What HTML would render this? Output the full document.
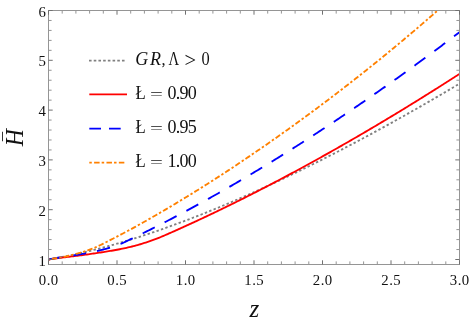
<!DOCTYPE html>
<html><head><meta charset="utf-8"><title>plot</title>
<style>
html,body{margin:0;padding:0;background:#fff;}
svg{display:block;will-change:transform;}
text{font-family:"Liberation Serif",serif;fill:#111;}
.it{font-style:italic;}
</style></head><body>
<svg width="469" height="327" viewBox="0 0 469 327">
<rect width="469" height="327" fill="#fff"/>
<defs><clipPath id="c"><rect x="48.5" y="10.5" width="411.0" height="254.0"/></clipPath></defs>

<g clip-path="url(#c)" fill="none" stroke-linejoin="round">
<path d="M48.50,259.50 L49.87,259.27 L51.24,259.03 L52.61,258.79 L53.98,258.55 L55.35,258.30 L56.72,258.05 L58.09,257.79 L59.46,257.53 L60.83,257.27 L62.20,257.01 L63.57,256.74 L64.94,256.47 L66.31,256.19 L67.68,255.91 L69.05,255.63 L70.42,255.34 L71.79,255.05 L73.16,254.76 L74.53,254.47 L75.90,254.17 L77.27,253.86 L78.64,253.56 L80.01,253.25 L81.38,252.93 L82.75,252.62 L84.12,252.30 L85.49,251.98 L86.86,251.65 L88.23,251.32 L89.60,250.99 L90.97,250.65 L92.34,250.31 L93.71,249.97 L95.08,249.63 L96.45,249.28 L97.82,248.92 L99.19,248.57 L100.56,248.21 L101.93,247.85 L103.30,247.49 L104.67,247.12 L106.04,246.75 L107.41,246.38 L108.78,246.00 L110.15,245.62 L111.52,245.24 L112.89,244.85 L114.26,244.47 L115.63,244.07 L117.00,243.68 L118.37,243.28 L119.74,242.88 L121.11,242.48 L122.48,242.08 L123.85,241.67 L125.22,241.26 L126.59,240.84 L127.96,240.43 L129.33,240.01 L130.70,239.58 L132.07,239.16 L133.44,238.73 L134.81,238.30 L136.18,237.87 L137.55,237.43 L138.92,237.00 L140.29,236.55 L141.66,236.11 L143.03,235.66 L144.40,235.22 L145.77,234.77 L147.14,234.31 L148.51,233.86 L149.88,233.40 L151.25,232.94 L152.62,232.47 L153.99,232.01 L155.36,231.54 L156.73,231.07 L158.10,230.59 L159.47,230.12 L160.84,229.64 L162.21,229.16 L163.58,228.67 L164.95,228.19 L166.32,227.70 L167.69,227.21 L169.06,226.72 L170.43,226.22 L171.80,225.73 L173.17,225.23 L174.54,224.73 L175.91,224.22 L177.28,223.72 L178.65,223.21 L180.02,222.70 L181.39,222.18 L182.76,221.67 L184.13,221.15 L185.50,220.63 L186.87,220.11 L188.24,219.59 L189.61,219.06 L190.98,218.54 L192.35,218.01 L193.72,217.47 L195.09,216.94 L196.46,216.40 L197.83,215.87 L199.20,215.33 L200.57,214.78 L201.94,214.24 L203.31,213.69 L204.68,213.14 L206.05,212.59 L207.42,212.04 L208.79,211.49 L210.16,210.93 L211.53,210.37 L212.90,209.81 L214.27,209.25 L215.64,208.69 L217.01,208.12 L218.38,207.55 L219.75,206.98 L221.12,206.41 L222.49,205.84 L223.86,205.26 L225.23,204.69 L226.60,204.11 L227.97,203.53 L229.34,202.94 L230.71,202.36 L232.08,201.77 L233.45,201.19 L234.82,200.60 L236.19,200.00 L237.56,199.41 L238.93,198.81 L240.30,198.22 L241.67,197.62 L243.04,197.02 L244.41,196.42 L245.78,195.81 L247.15,195.21 L248.52,194.60 L249.89,193.99 L251.26,193.38 L252.63,192.77 L254.00,192.15 L255.37,191.53 L256.74,190.92 L258.11,190.30 L259.48,189.68 L260.85,189.05 L262.22,188.43 L263.59,187.80 L264.96,187.18 L266.33,186.55 L267.70,185.91 L269.07,185.28 L270.44,184.65 L271.81,184.01 L273.18,183.37 L274.55,182.74 L275.92,182.09 L277.29,181.45 L278.66,180.81 L280.03,180.16 L281.40,179.52 L282.77,178.87 L284.14,178.22 L285.51,177.57 L286.88,176.91 L288.25,176.26 L289.62,175.60 L290.99,174.94 L292.36,174.28 L293.73,173.62 L295.10,172.96 L296.47,172.30 L297.84,171.63 L299.21,170.97 L300.58,170.30 L301.95,169.63 L303.32,168.96 L304.69,168.28 L306.06,167.61 L307.43,166.93 L308.80,166.26 L310.17,165.58 L311.54,164.90 L312.91,164.21 L314.28,163.53 L315.65,162.85 L317.02,162.16 L318.39,161.47 L319.76,160.78 L321.13,160.09 L322.50,159.40 L323.87,158.71 L325.24,158.02 L326.61,157.32 L327.98,156.62 L329.35,155.92 L330.72,155.22 L332.09,154.52 L333.46,153.82 L334.83,153.11 L336.20,152.41 L337.57,151.70 L338.94,150.99 L340.31,150.28 L341.68,149.57 L343.05,148.86 L344.42,148.15 L345.79,147.43 L347.16,146.71 L348.53,146.00 L349.90,145.28 L351.27,144.56 L352.64,143.83 L354.01,143.11 L355.38,142.39 L356.75,141.66 L358.12,140.93 L359.49,140.20 L360.86,139.47 L362.23,138.74 L363.60,138.01 L364.97,137.28 L366.34,136.54 L367.71,135.81 L369.08,135.07 L370.45,134.33 L371.82,133.59 L373.19,132.85 L374.56,132.10 L375.93,131.36 L377.30,130.61 L378.67,129.87 L380.04,129.12 L381.41,128.37 L382.78,127.62 L384.15,126.87 L385.52,126.11 L386.89,125.36 L388.26,124.61 L389.63,123.85 L391.00,123.09 L392.37,122.33 L393.74,121.57 L395.11,120.81 L396.48,120.05 L397.85,119.28 L399.22,118.52 L400.59,117.75 L401.96,116.98 L403.33,116.21 L404.70,115.44 L406.07,114.67 L407.44,113.90 L408.81,113.12 L410.18,112.35 L411.55,111.57 L412.92,110.79 L414.29,110.02 L415.66,109.24 L417.03,108.45 L418.40,107.67 L419.77,106.89 L421.14,106.10 L422.51,105.32 L423.88,104.53 L425.25,103.74 L426.62,102.95 L427.99,102.16 L429.36,101.37 L430.73,100.58 L432.10,99.78 L433.47,98.99 L434.84,98.19 L436.21,97.39 L437.58,96.59 L438.95,95.79 L440.32,94.99 L441.69,94.19 L443.06,93.39 L444.43,92.58 L445.80,91.78 L447.17,90.97 L448.54,90.16 L449.91,89.35 L451.28,88.54 L452.65,87.73 L454.02,86.92 L455.39,86.10 L456.76,85.29 L458.13,84.47 L459.50,83.66" stroke="#808080" stroke-width="1.85" stroke-dasharray="2.4 2.295" stroke-dashoffset="0.9"/>
<path d="M48.50,259.58 L49.87,259.34 L51.24,259.12 L52.61,258.90 L53.98,258.69 L55.35,258.49 L56.72,258.29 L58.09,258.11 L59.46,257.92 L60.83,257.75 L62.20,257.58 L63.57,257.41 L64.94,257.25 L66.31,257.09 L67.68,256.93 L69.05,256.77 L70.42,256.61 L71.79,256.44 L73.16,256.28 L74.53,256.12 L75.90,255.95 L77.27,255.78 L78.64,255.60 L80.01,255.43 L81.38,255.25 L82.75,255.06 L84.12,254.88 L85.49,254.69 L86.86,254.49 L88.23,254.30 L89.60,254.10 L90.97,253.90 L92.34,253.70 L93.71,253.50 L95.08,253.30 L96.45,253.10 L97.82,252.89 L99.19,252.69 L100.56,252.48 L101.93,252.27 L103.30,252.06 L104.67,251.84 L106.04,251.63 L107.41,251.41 L108.78,251.19 L110.15,250.96 L111.52,250.73 L112.89,250.49 L114.26,250.25 L115.63,250.00 L117.00,249.75 L118.37,249.49 L119.74,249.22 L121.11,248.95 L122.48,248.67 L123.85,248.38 L125.22,248.09 L126.59,247.78 L127.96,247.47 L129.33,247.15 L130.70,246.82 L132.07,246.48 L133.44,246.13 L134.81,245.77 L136.18,245.40 L137.55,245.02 L138.92,244.64 L140.29,244.24 L141.66,243.83 L143.03,243.41 L144.40,242.98 L145.77,242.54 L147.14,242.09 L148.51,241.63 L149.88,241.16 L151.25,240.68 L152.62,240.18 L153.99,239.68 L155.36,239.17 L156.73,238.64 L158.10,238.10 L159.47,237.56 L160.84,237.00 L162.21,236.43 L163.58,235.85 L164.95,235.27 L166.32,234.67 L167.69,234.07 L169.06,233.46 L170.43,232.86 L171.80,232.25 L173.17,231.64 L174.54,231.03 L175.91,230.42 L177.28,229.81 L178.65,229.19 L180.02,228.57 L181.39,227.95 L182.76,227.33 L184.13,226.71 L185.50,226.09 L186.87,225.46 L188.24,224.84 L189.61,224.21 L190.98,223.58 L192.35,222.95 L193.72,222.32 L195.09,221.68 L196.46,221.05 L197.83,220.41 L199.20,219.77 L200.57,219.13 L201.94,218.49 L203.31,217.85 L204.68,217.20 L206.05,216.55 L207.42,215.91 L208.79,215.26 L210.16,214.61 L211.53,213.95 L212.90,213.30 L214.27,212.65 L215.64,211.99 L217.01,211.33 L218.38,210.67 L219.75,210.01 L221.12,209.35 L222.49,208.68 L223.86,208.02 L225.23,207.35 L226.60,206.68 L227.97,206.01 L229.34,205.34 L230.71,204.67 L232.08,203.99 L233.45,203.32 L234.82,202.64 L236.19,201.96 L237.56,201.28 L238.93,200.60 L240.30,199.92 L241.67,199.23 L243.04,198.55 L244.41,197.86 L245.78,197.17 L247.15,196.48 L248.52,195.79 L249.89,195.10 L251.26,194.40 L252.63,193.71 L254.00,193.01 L255.37,192.31 L256.74,191.61 L258.11,190.91 L259.48,190.21 L260.85,189.50 L262.22,188.80 L263.59,188.09 L264.96,187.38 L266.33,186.67 L267.70,185.96 L269.07,185.25 L270.44,184.54 L271.81,183.82 L273.18,183.11 L274.55,182.39 L275.92,181.67 L277.29,180.95 L278.66,180.23 L280.03,179.50 L281.40,178.78 L282.77,178.05 L284.14,177.33 L285.51,176.60 L286.88,175.87 L288.25,175.14 L289.62,174.40 L290.99,173.67 L292.36,172.93 L293.73,172.20 L295.10,171.46 L296.47,170.72 L297.84,169.98 L299.21,169.24 L300.58,168.50 L301.95,167.75 L303.32,167.01 L304.69,166.26 L306.06,165.51 L307.43,164.76 L308.80,164.01 L310.17,163.26 L311.54,162.51 L312.91,161.75 L314.28,160.99 L315.65,160.24 L317.02,159.48 L318.39,158.72 L319.76,157.96 L321.13,157.20 L322.50,156.43 L323.87,155.67 L325.24,154.90 L326.61,154.13 L327.98,153.36 L329.35,152.59 L330.72,151.82 L332.09,151.05 L333.46,150.28 L334.83,149.50 L336.20,148.72 L337.57,147.95 L338.94,147.17 L340.31,146.39 L341.68,145.61 L343.05,144.82 L344.42,144.04 L345.79,143.26 L347.16,142.47 L348.53,141.68 L349.90,140.89 L351.27,140.10 L352.64,139.31 L354.01,138.52 L355.38,137.73 L356.75,136.93 L358.12,136.13 L359.49,135.34 L360.86,134.54 L362.23,133.74 L363.60,132.94 L364.97,132.14 L366.34,131.33 L367.71,130.53 L369.08,129.72 L370.45,128.91 L371.82,128.11 L373.19,127.30 L374.56,126.49 L375.93,125.67 L377.30,124.86 L378.67,124.05 L380.04,123.23 L381.41,122.41 L382.78,121.60 L384.15,120.78 L385.52,119.96 L386.89,119.14 L388.26,118.31 L389.63,117.49 L391.00,116.66 L392.37,115.84 L393.74,115.01 L395.11,114.18 L396.48,113.35 L397.85,112.52 L399.22,111.69 L400.59,110.86 L401.96,110.02 L403.33,109.19 L404.70,108.35 L406.07,107.51 L407.44,106.67 L408.81,105.83 L410.18,104.99 L411.55,104.15 L412.92,103.30 L414.29,102.46 L415.66,101.61 L417.03,100.77 L418.40,99.92 L419.77,99.07 L421.14,98.22 L422.51,97.37 L423.88,96.51 L425.25,95.66 L426.62,94.80 L427.99,93.95 L429.36,93.09 L430.73,92.23 L432.10,91.37 L433.47,90.51 L434.84,89.65 L436.21,88.79 L437.58,87.92 L438.95,87.06 L440.32,86.19 L441.69,85.32 L443.06,84.45 L444.43,83.59 L445.80,82.71 L447.17,81.84 L448.54,80.97 L449.91,80.09 L451.28,79.22 L452.65,78.34 L454.02,77.47 L455.39,76.59 L456.76,75.71 L458.13,74.83 L459.50,73.94" stroke="#ff0000" stroke-width="1.85"/>
<path d="M48.50,259.50 L49.87,259.19 L51.24,258.92 L52.61,258.66 L53.98,258.42 L55.35,258.19 L56.72,257.97 L58.09,257.75 L59.46,257.53 L60.83,257.32 L62.20,257.11 L63.57,256.91 L64.94,256.70 L66.31,256.50 L67.68,256.29 L69.05,256.08 L70.42,255.87 L71.79,255.66 L73.16,255.45 L74.53,255.24 L75.90,255.02 L77.27,254.79 L78.64,254.57 L80.01,254.34 L81.38,254.10 L82.75,253.87 L84.12,253.62 L85.49,253.37 L86.86,253.12 L88.23,252.85 L89.60,252.59 L90.97,252.31 L92.34,252.03 L93.71,251.74 L95.08,251.45 L96.45,251.14 L97.82,250.83 L99.19,250.51 L100.56,250.18 L101.93,249.84 L103.30,249.49 L104.67,249.14 L106.04,248.77 L107.41,248.39 L108.78,248.00 L110.15,247.60 L111.52,247.18 L112.89,246.75 L114.26,246.31 L115.63,245.85 L117.00,245.37 L118.37,244.87 L119.74,244.34 L121.11,243.76 L122.48,243.11 L123.85,242.47 L125.22,241.82 L126.59,241.17 L127.96,240.52 L129.33,239.86 L130.70,239.21 L132.07,238.55 L133.44,237.89 L134.81,237.23 L136.18,236.56 L137.55,235.90 L138.92,235.23 L140.29,234.56 L141.66,233.89 L143.03,233.21 L144.40,232.54 L145.77,231.86 L147.14,231.18 L148.51,230.49 L149.88,229.81 L151.25,229.12 L152.62,228.44 L153.99,227.75 L155.36,227.05 L156.73,226.36 L158.10,225.66 L159.47,224.97 L160.84,224.27 L162.21,223.56 L163.58,222.86 L164.95,222.15 L166.32,221.45 L167.69,220.74 L169.06,220.03 L170.43,219.31 L171.80,218.60 L173.17,217.88 L174.54,217.16 L175.91,216.44 L177.28,215.72 L178.65,214.99 L180.02,214.27 L181.39,213.54 L182.76,212.81 L184.13,212.08 L185.50,211.34 L186.87,210.61 L188.24,209.87 L189.61,209.13 L190.98,208.39 L192.35,207.65 L193.72,206.90 L195.09,206.16 L196.46,205.41 L197.83,204.66 L199.20,203.91 L200.57,203.15 L201.94,202.40 L203.31,201.64 L204.68,200.88 L206.05,200.12 L207.42,199.36 L208.79,198.59 L210.16,197.83 L211.53,197.06 L212.90,196.29 L214.27,195.52 L215.64,194.74 L217.01,193.97 L218.38,193.19 L219.75,192.41 L221.12,191.63 L222.49,190.85 L223.86,190.07 L225.23,189.28 L226.60,188.50 L227.97,187.71 L229.34,186.92 L230.71,186.13 L232.08,185.33 L233.45,184.54 L234.82,183.74 L236.19,182.94 L237.56,182.14 L238.93,181.34 L240.30,180.53 L241.67,179.73 L243.04,178.92 L244.41,178.11 L245.78,177.30 L247.15,176.49 L248.52,175.67 L249.89,174.86 L251.26,174.04 L252.63,173.22 L254.00,172.40 L255.37,171.58 L256.74,170.76 L258.11,169.93 L259.48,169.10 L260.85,168.27 L262.22,167.44 L263.59,166.61 L264.96,165.78 L266.33,164.94 L267.70,164.11 L269.07,163.27 L270.44,162.43 L271.81,161.59 L273.18,160.74 L274.55,159.90 L275.92,159.05 L277.29,158.20 L278.66,157.35 L280.03,156.50 L281.40,155.65 L282.77,154.80 L284.14,153.94 L285.51,153.08 L286.88,152.22 L288.25,151.36 L289.62,150.50 L290.99,149.64 L292.36,148.77 L293.73,147.90 L295.10,147.04 L296.47,146.17 L297.84,145.29 L299.21,144.42 L300.58,143.55 L301.95,142.67 L303.32,141.79 L304.69,140.91 L306.06,140.03 L307.43,139.15 L308.80,138.27 L310.17,137.38 L311.54,136.49 L312.91,135.60 L314.28,134.71 L315.65,133.82 L317.02,132.93 L318.39,132.04 L319.76,131.14 L321.13,130.24 L322.50,129.34 L323.87,128.44 L325.24,127.54 L326.61,126.64 L327.98,125.73 L329.35,124.83 L330.72,123.92 L332.09,123.01 L333.46,122.10 L334.83,121.18 L336.20,120.27 L337.57,119.36 L338.94,118.44 L340.31,117.52 L341.68,116.60 L343.05,115.68 L344.42,114.76 L345.79,113.83 L347.16,112.91 L348.53,111.98 L349.90,111.05 L351.27,110.12 L352.64,109.19 L354.01,108.26 L355.38,107.32 L356.75,106.39 L358.12,105.45 L359.49,104.51 L360.86,103.57 L362.23,102.63 L363.60,101.69 L364.97,100.74 L366.34,99.80 L367.71,98.85 L369.08,97.90 L370.45,96.95 L371.82,96.00 L373.19,95.05 L374.56,94.09 L375.93,93.13 L377.30,92.18 L378.67,91.22 L380.04,90.26 L381.41,89.30 L382.78,88.33 L384.15,87.37 L385.52,86.41 L386.89,85.44 L388.26,84.47 L389.63,83.50 L391.00,82.53 L392.37,81.56 L393.74,80.58 L395.11,79.61 L396.48,78.63 L397.85,77.65 L399.22,76.67 L400.59,75.69 L401.96,74.71 L403.33,73.73 L404.70,72.74 L406.07,71.75 L407.44,70.77 L408.81,69.78 L410.18,68.79 L411.55,67.80 L412.92,66.80 L414.29,65.81 L415.66,64.81 L417.03,63.81 L418.40,62.82 L419.77,61.82 L421.14,60.81 L422.51,59.81 L423.88,58.81 L425.25,57.80 L426.62,56.80 L427.99,55.79 L429.36,54.78 L430.73,53.77 L432.10,52.76 L433.47,51.74 L434.84,50.73 L436.21,49.71 L437.58,48.69 L438.95,47.68 L440.32,46.66 L441.69,45.64 L443.06,44.61 L444.43,43.59 L445.80,42.56 L447.17,41.54 L448.54,40.51 L449.91,39.48 L451.28,38.45 L452.65,37.42 L454.02,36.38 L455.39,35.35 L456.76,34.31 L458.13,33.28 L459.50,32.24" stroke="#0000ff" stroke-width="1.85" stroke-dasharray="13.5 11.1"/>
<path d="M48.50,259.50 L49.87,259.19 L51.24,258.93 L52.61,258.70 L53.98,258.48 L55.35,258.26 L56.72,258.04 L58.09,257.82 L59.46,257.59 L60.83,257.35 L62.20,257.10 L63.57,256.84 L64.94,256.57 L66.31,256.29 L67.68,255.99 L69.05,255.68 L70.42,255.36 L71.79,255.03 L73.16,254.68 L74.53,254.32 L75.90,253.96 L77.27,253.58 L78.64,253.19 L80.01,252.80 L81.38,252.39 L82.75,251.98 L84.12,251.56 L85.49,251.13 L86.86,250.68 L88.23,250.21 L89.60,249.73 L90.97,249.22 L92.34,248.69 L93.71,248.13 L95.08,247.54 L96.45,246.94 L97.82,246.31 L99.19,245.65 L100.56,244.99 L101.93,244.31 L103.30,243.62 L104.67,242.92 L106.04,242.22 L107.41,241.52 L108.78,240.81 L110.15,240.11 L111.52,239.41 L112.89,238.70 L114.26,238.00 L115.63,237.29 L117.00,236.58 L118.37,235.87 L119.74,235.16 L121.11,234.44 L122.48,233.72 L123.85,233.00 L125.22,232.27 L126.59,231.54 L127.96,230.80 L129.33,230.06 L130.70,229.32 L132.07,228.58 L133.44,227.83 L134.81,227.08 L136.18,226.33 L137.55,225.57 L138.92,224.81 L140.29,224.05 L141.66,223.28 L143.03,222.51 L144.40,221.74 L145.77,220.97 L147.14,220.20 L148.51,219.42 L149.88,218.64 L151.25,217.86 L152.62,217.07 L153.99,216.28 L155.36,215.49 L156.73,214.70 L158.10,213.91 L159.47,213.11 L160.84,212.31 L162.21,211.51 L163.58,210.71 L164.95,209.91 L166.32,209.10 L167.69,208.29 L169.06,207.48 L170.43,206.67 L171.80,205.85 L173.17,205.03 L174.54,204.21 L175.91,203.39 L177.28,202.57 L178.65,201.74 L180.02,200.91 L181.39,200.08 L182.76,199.25 L184.13,198.41 L185.50,197.58 L186.87,196.74 L188.24,195.90 L189.61,195.05 L190.98,194.21 L192.35,193.36 L193.72,192.51 L195.09,191.66 L196.46,190.81 L197.83,189.95 L199.20,189.09 L200.57,188.23 L201.94,187.37 L203.31,186.51 L204.68,185.64 L206.05,184.78 L207.42,183.91 L208.79,183.03 L210.16,182.16 L211.53,181.28 L212.90,180.41 L214.27,179.53 L215.64,178.64 L217.01,177.76 L218.38,176.88 L219.75,175.99 L221.12,175.10 L222.49,174.21 L223.86,173.31 L225.23,172.42 L226.60,171.52 L227.97,170.62 L229.34,169.72 L230.71,168.81 L232.08,167.91 L233.45,167.00 L234.82,166.09 L236.19,165.18 L237.56,164.27 L238.93,163.35 L240.30,162.44 L241.67,161.52 L243.04,160.60 L244.41,159.67 L245.78,158.75 L247.15,157.82 L248.52,156.89 L249.89,155.96 L251.26,155.03 L252.63,154.10 L254.00,153.16 L255.37,152.22 L256.74,151.29 L258.11,150.34 L259.48,149.40 L260.85,148.45 L262.22,147.51 L263.59,146.56 L264.96,145.61 L266.33,144.66 L267.70,143.70 L269.07,142.74 L270.44,141.79 L271.81,140.83 L273.18,139.86 L274.55,138.90 L275.92,137.94 L277.29,136.97 L278.66,136.00 L280.03,135.03 L281.40,134.06 L282.77,133.08 L284.14,132.11 L285.51,131.13 L286.88,130.15 L288.25,129.17 L289.62,128.18 L290.99,127.20 L292.36,126.21 L293.73,125.22 L295.10,124.23 L296.47,123.24 L297.84,122.24 L299.21,121.25 L300.58,120.25 L301.95,119.25 L303.32,118.25 L304.69,117.25 L306.06,116.24 L307.43,115.24 L308.80,114.23 L310.17,113.22 L311.54,112.21 L312.91,111.19 L314.28,110.18 L315.65,109.16 L317.02,108.14 L318.39,107.12 L319.76,106.10 L321.13,105.08 L322.50,104.05 L323.87,103.02 L325.24,102.00 L326.61,100.96 L327.98,99.93 L329.35,98.90 L330.72,97.86 L332.09,96.82 L333.46,95.78 L334.83,94.74 L336.20,93.69 L337.57,92.64 L338.94,91.60 L340.31,90.54 L341.68,89.49 L343.05,88.44 L344.42,87.38 L345.79,86.32 L347.16,85.26 L348.53,84.19 L349.90,83.13 L351.27,82.06 L352.64,80.99 L354.01,79.92 L355.38,78.84 L356.75,77.77 L358.12,76.69 L359.49,75.61 L360.86,74.53 L362.23,73.44 L363.60,72.36 L364.97,71.27 L366.34,70.18 L367.71,69.09 L369.08,67.99 L370.45,66.89 L371.82,65.79 L373.19,64.69 L374.56,63.59 L375.93,62.48 L377.30,61.38 L378.67,60.27 L380.04,59.16 L381.41,58.04 L382.78,56.93 L384.15,55.81 L385.52,54.69 L386.89,53.57 L388.26,52.44 L389.63,51.32 L391.00,50.19 L392.37,49.06 L393.74,47.93 L395.11,46.79 L396.48,45.65 L397.85,44.52 L399.22,43.37 L400.59,42.23 L401.96,41.09 L403.33,39.94 L404.70,38.79 L406.07,37.64 L407.44,36.48 L408.81,35.33 L410.18,34.17 L411.55,33.01 L412.92,31.85 L414.29,30.69 L415.66,29.52 L417.03,28.35 L418.40,27.18 L419.77,26.01 L421.14,24.83 L422.51,23.66 L423.88,22.48 L425.25,21.30 L426.62,20.12 L427.99,18.93 L429.36,17.74 L430.73,16.55 L432.10,15.36 L433.47,14.17 L434.84,12.97 L436.21,11.78 L437.58,10.58 L438.95,9.38 L440.32,8.17 L441.69,6.97 L443.06,5.76 L444.43,4.55 L445.80,3.34 L447.17,2.12 L448.54,0.90 L449.91,-0.31 L451.28,-1.53 L452.65,-2.76 L454.02,-3.98 L455.39,-5.21 L456.76,-6.44 L458.13,-7.67 L459.50,-8.90" stroke="#ff8000" stroke-width="1.85" stroke-dasharray="2.4 2.15 5.5 2.15" stroke-dashoffset="1.2"/>
</g>
<rect x="48.5" y="10.5" width="411.0" height="254.0" fill="none" stroke="#959595" stroke-width="1"/>
<g fill="none"><path d="M48.50,264.5 v-4.2 M48.50,10.5 v4.2" stroke="#707070" stroke-width="1"/><path d="M62.20,264.5 v-3.1 M62.20,10.5 v3.1" stroke="#959595" stroke-width="1"/><path d="M75.90,264.5 v-3.1 M75.90,10.5 v3.1" stroke="#959595" stroke-width="1"/><path d="M89.60,264.5 v-3.1 M89.60,10.5 v3.1" stroke="#959595" stroke-width="1"/><path d="M103.30,264.5 v-3.1 M103.30,10.5 v3.1" stroke="#959595" stroke-width="1"/><path d="M117.00,264.5 v-4.2 M117.00,10.5 v4.2" stroke="#707070" stroke-width="1"/><path d="M130.70,264.5 v-3.1 M130.70,10.5 v3.1" stroke="#959595" stroke-width="1"/><path d="M144.40,264.5 v-3.1 M144.40,10.5 v3.1" stroke="#959595" stroke-width="1"/><path d="M158.10,264.5 v-3.1 M158.10,10.5 v3.1" stroke="#959595" stroke-width="1"/><path d="M171.80,264.5 v-3.1 M171.80,10.5 v3.1" stroke="#959595" stroke-width="1"/><path d="M185.50,264.5 v-4.2 M185.50,10.5 v4.2" stroke="#707070" stroke-width="1"/><path d="M199.20,264.5 v-3.1 M199.20,10.5 v3.1" stroke="#959595" stroke-width="1"/><path d="M212.90,264.5 v-3.1 M212.90,10.5 v3.1" stroke="#959595" stroke-width="1"/><path d="M226.60,264.5 v-3.1 M226.60,10.5 v3.1" stroke="#959595" stroke-width="1"/><path d="M240.30,264.5 v-3.1 M240.30,10.5 v3.1" stroke="#959595" stroke-width="1"/><path d="M254.00,264.5 v-4.2 M254.00,10.5 v4.2" stroke="#707070" stroke-width="1"/><path d="M267.70,264.5 v-3.1 M267.70,10.5 v3.1" stroke="#959595" stroke-width="1"/><path d="M281.40,264.5 v-3.1 M281.40,10.5 v3.1" stroke="#959595" stroke-width="1"/><path d="M295.10,264.5 v-3.1 M295.10,10.5 v3.1" stroke="#959595" stroke-width="1"/><path d="M308.80,264.5 v-3.1 M308.80,10.5 v3.1" stroke="#959595" stroke-width="1"/><path d="M322.50,264.5 v-4.2 M322.50,10.5 v4.2" stroke="#707070" stroke-width="1"/><path d="M336.20,264.5 v-3.1 M336.20,10.5 v3.1" stroke="#959595" stroke-width="1"/><path d="M349.90,264.5 v-3.1 M349.90,10.5 v3.1" stroke="#959595" stroke-width="1"/><path d="M363.60,264.5 v-3.1 M363.60,10.5 v3.1" stroke="#959595" stroke-width="1"/><path d="M377.30,264.5 v-3.1 M377.30,10.5 v3.1" stroke="#959595" stroke-width="1"/><path d="M391.00,264.5 v-4.2 M391.00,10.5 v4.2" stroke="#707070" stroke-width="1"/><path d="M404.70,264.5 v-3.1 M404.70,10.5 v3.1" stroke="#959595" stroke-width="1"/><path d="M418.40,264.5 v-3.1 M418.40,10.5 v3.1" stroke="#959595" stroke-width="1"/><path d="M432.10,264.5 v-3.1 M432.10,10.5 v3.1" stroke="#959595" stroke-width="1"/><path d="M445.80,264.5 v-3.1 M445.80,10.5 v3.1" stroke="#959595" stroke-width="1"/><path d="M459.50,264.5 v-4.2 M459.50,10.5 v4.2" stroke="#707070" stroke-width="1"/><path d="M48.5,259.50 h4.2 M459.5,259.50 h-4.2" stroke="#707070" stroke-width="1"/><path d="M48.5,249.54 h3.1 M459.5,249.54 h-3.1" stroke="#959595" stroke-width="1"/><path d="M48.5,239.58 h3.1 M459.5,239.58 h-3.1" stroke="#959595" stroke-width="1"/><path d="M48.5,229.62 h3.1 M459.5,229.62 h-3.1" stroke="#959595" stroke-width="1"/><path d="M48.5,219.66 h3.1 M459.5,219.66 h-3.1" stroke="#959595" stroke-width="1"/><path d="M48.5,209.70 h4.2 M459.5,209.70 h-4.2" stroke="#707070" stroke-width="1"/><path d="M48.5,199.74 h3.1 M459.5,199.74 h-3.1" stroke="#959595" stroke-width="1"/><path d="M48.5,189.78 h3.1 M459.5,189.78 h-3.1" stroke="#959595" stroke-width="1"/><path d="M48.5,179.82 h3.1 M459.5,179.82 h-3.1" stroke="#959595" stroke-width="1"/><path d="M48.5,169.86 h3.1 M459.5,169.86 h-3.1" stroke="#959595" stroke-width="1"/><path d="M48.5,159.90 h4.2 M459.5,159.90 h-4.2" stroke="#707070" stroke-width="1"/><path d="M48.5,149.94 h3.1 M459.5,149.94 h-3.1" stroke="#959595" stroke-width="1"/><path d="M48.5,139.98 h3.1 M459.5,139.98 h-3.1" stroke="#959595" stroke-width="1"/><path d="M48.5,130.02 h3.1 M459.5,130.02 h-3.1" stroke="#959595" stroke-width="1"/><path d="M48.5,120.06 h3.1 M459.5,120.06 h-3.1" stroke="#959595" stroke-width="1"/><path d="M48.5,110.10 h4.2 M459.5,110.10 h-4.2" stroke="#707070" stroke-width="1"/><path d="M48.5,100.14 h3.1 M459.5,100.14 h-3.1" stroke="#959595" stroke-width="1"/><path d="M48.5,90.18 h3.1 M459.5,90.18 h-3.1" stroke="#959595" stroke-width="1"/><path d="M48.5,80.22 h3.1 M459.5,80.22 h-3.1" stroke="#959595" stroke-width="1"/><path d="M48.5,70.26 h3.1 M459.5,70.26 h-3.1" stroke="#959595" stroke-width="1"/><path d="M48.5,60.30 h4.2 M459.5,60.30 h-4.2" stroke="#707070" stroke-width="1"/><path d="M48.5,50.34 h3.1 M459.5,50.34 h-3.1" stroke="#959595" stroke-width="1"/><path d="M48.5,40.38 h3.1 M459.5,40.38 h-3.1" stroke="#959595" stroke-width="1"/><path d="M48.5,30.42 h3.1 M459.5,30.42 h-3.1" stroke="#959595" stroke-width="1"/><path d="M48.5,20.46 h3.1 M459.5,20.46 h-3.1" stroke="#959595" stroke-width="1"/><path d="M48.5,10.50 h4.2 M459.5,10.50 h-4.2" stroke="#707070" stroke-width="1"/></g>
<text x="48.50" y="285" font-size="14.8" text-anchor="middle" textLength="19.4" lengthAdjust="spacing">0.0</text>
<text x="117.00" y="285" font-size="14.8" text-anchor="middle" textLength="19.4" lengthAdjust="spacing">0.5</text>
<text x="185.50" y="285" font-size="14.8" text-anchor="middle" textLength="19.4" lengthAdjust="spacing">1.0</text>
<text x="254.00" y="285" font-size="14.8" text-anchor="middle" textLength="19.4" lengthAdjust="spacing">1.5</text>
<text x="322.50" y="285" font-size="14.8" text-anchor="middle" textLength="19.4" lengthAdjust="spacing">2.0</text>
<text x="391.00" y="285" font-size="14.8" text-anchor="middle" textLength="19.4" lengthAdjust="spacing">2.5</text>
<text x="459.50" y="285" font-size="14.8" text-anchor="middle" textLength="19.4" lengthAdjust="spacing">3.0</text>
<text x="45.9" y="265.50" font-size="14.8" text-anchor="end">1</text>
<text x="45.9" y="215.70" font-size="14.8" text-anchor="end">2</text>
<text x="45.9" y="165.90" font-size="14.8" text-anchor="end">3</text>
<text x="45.9" y="116.10" font-size="14.8" text-anchor="end">4</text>
<text x="45.9" y="66.30" font-size="14.8" text-anchor="end">5</text>
<text x="45.9" y="16.50" font-size="14.8" text-anchor="end">6</text>
<text class="it" x="254.3" y="316.5" font-size="25" text-anchor="middle">z</text>
<g transform="translate(22.6,137.7) rotate(-90)"><text class="it" x="0" y="0" font-size="25" text-anchor="middle" textLength="17.2" lengthAdjust="spacingAndGlyphs">H</text><text x="1.3" y="-7.0" font-size="18" text-anchor="middle">¯</text></g>
<path d="M89,60.66 H126.5" stroke="#808080" stroke-width="1.7" stroke-dasharray="2.6 2.11" fill="none"/>
<path d="M89.3,94.45 H127" stroke="#ff0000" stroke-width="1.7" fill="none"/>
<path d="M89.3,128.66 H127" stroke="#0000ff" stroke-width="1.7" stroke-dasharray="11.7 8" fill="none"/>
<path d="M89.3,162.66 H125" stroke="#ff8000" stroke-width="1.7" stroke-dasharray="2.5 2.3 5.5 2.07" fill="none"/>
<text x="135.3" y="64.7" font-size="18" textLength="25.8" lengthAdjust="spacing" class="it">GR</text>
<text x="161.6" y="64.7" font-size="16.5">,</text>
<text x="168.6" y="64.7" font-size="18.5" textLength="10.6" lengthAdjust="spacingAndGlyphs">Λ</text>
<text x="184.6" y="66.60000000000001" font-size="21" textLength="11.6" lengthAdjust="spacingAndGlyphs">&gt;</text>
<text x="201.6" y="64.7" font-size="18" textLength="8.2" lengthAdjust="spacingAndGlyphs">0</text>
<text x="135.5" y="98.5" font-size="18" textLength="10.2" lengthAdjust="spacingAndGlyphs">Ł</text>
<text x="149.9" y="99.1" font-size="14.4" textLength="12.9" lengthAdjust="spacingAndGlyphs">=</text>
<text x="167.4" y="98.5" font-size="18" textLength="29.3" lengthAdjust="spacing">0.90</text>
<text x="135.5" y="132.6" font-size="18" textLength="10.2" lengthAdjust="spacingAndGlyphs">Ł</text>
<text x="149.9" y="133.2" font-size="14.4" textLength="12.9" lengthAdjust="spacingAndGlyphs">=</text>
<text x="167.4" y="132.6" font-size="18" textLength="29.3" lengthAdjust="spacing">0.95</text>
<text x="135.5" y="166.7" font-size="18" textLength="10.2" lengthAdjust="spacingAndGlyphs">Ł</text>
<text x="149.9" y="167.29999999999998" font-size="14.4" textLength="12.9" lengthAdjust="spacingAndGlyphs">=</text>
<text x="167.4" y="166.7" font-size="18" textLength="29.3" lengthAdjust="spacing">1.00</text>
</svg></body></html>
